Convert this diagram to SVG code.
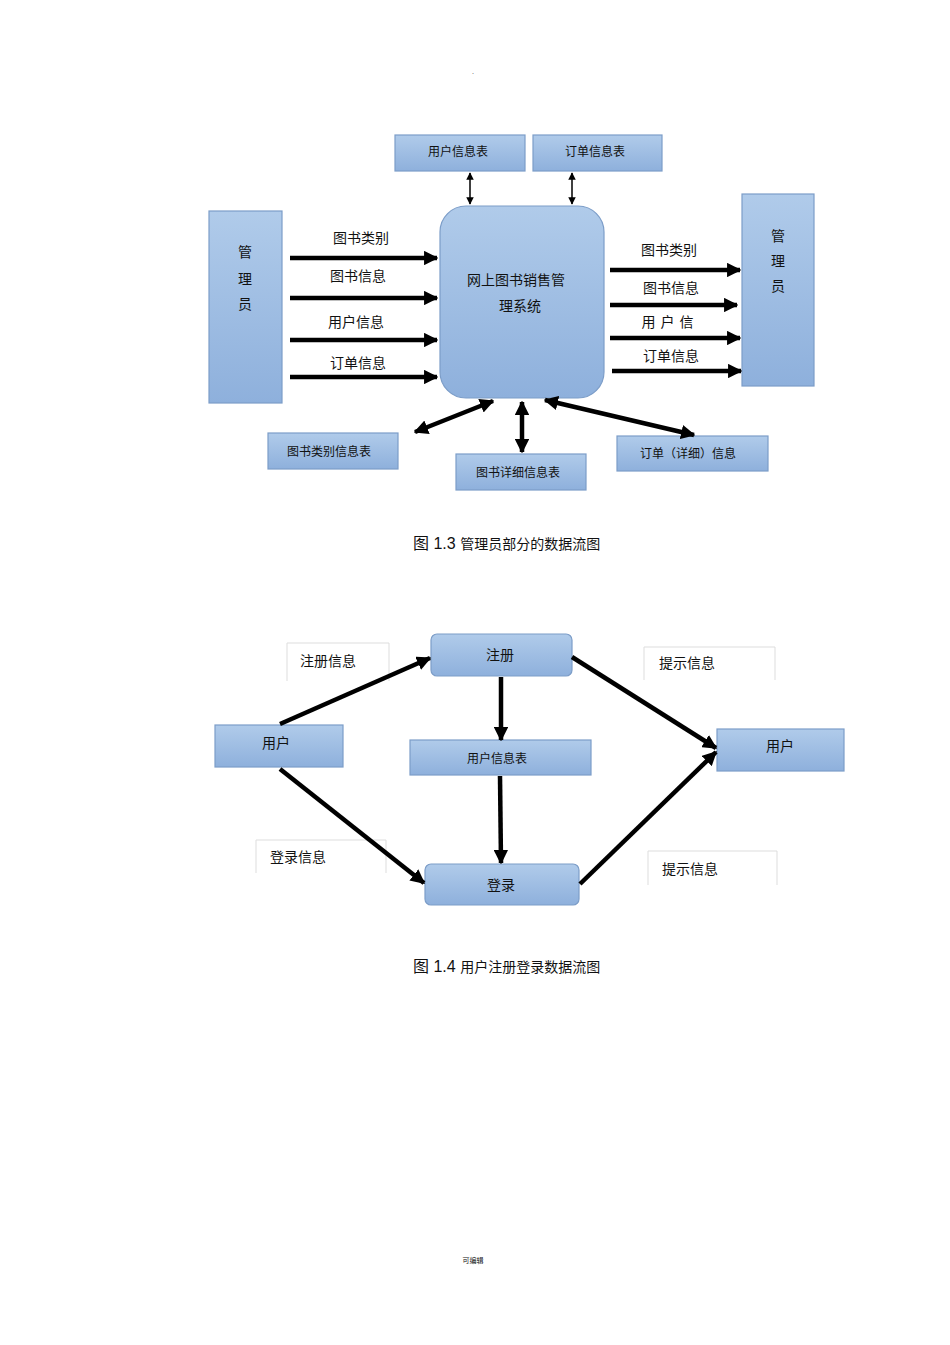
<svg xmlns="http://www.w3.org/2000/svg" width="950" height="1345" viewBox="0 0 950 1345">
<defs>
<linearGradient id="g" x1="0" y1="0" x2="0" y2="1"><stop offset="0" stop-color="#b0cbea"/><stop offset="1" stop-color="#8eb0dc"/></linearGradient>
<marker id="a" viewBox="0 0 10 10" refX="9" refY="5" markerWidth="3.2" markerHeight="3.2" orient="auto-start-reverse"><path d="M0,0L10,5L0,10z" fill="#000"/></marker>
<marker id="s" viewBox="0 0 10 10" refX="9" refY="5" markerWidth="5" markerHeight="5" orient="auto-start-reverse"><path d="M0,0L10,5L0,10z" fill="#000"/></marker>
</defs>
<style>
.b{fill:url(#g);stroke:#7c9dc8;stroke-width:1.2}
.w{fill:#fff;stroke:#ddd;stroke-width:1}
text{font-family:"Liberation Serif","Noto Sans CJK SC",serif;fill:#111;text-anchor:middle}
.t{font-size:14px}.s{font-size:12px}
.c{font-size:16px;text-anchor:start;font-family:"Liberation Sans","Noto Sans CJK SC",sans-serif}
.l{stroke:#000;stroke-width:4.5;fill:none}
.th{stroke:#000;stroke-width:1.5;fill:none}
</style>
<text x="473" y="74" font-size="6">.</text>
<g id="n_uinfo"><rect class="b" x="395" y="135" width="130" height="36"/><text class="s" x="458" y="156">用户信息表</text></g>
<g id="n_oinfo"><rect class="b" x="533" y="135" width="129" height="36"/><text class="s" x="595" y="156">订单信息表</text></g>
<g id="n_sys"><rect class="b" x="440" y="206" width="164" height="192" rx="26"/><text class="t" x="516" y="285">网上图书销售管</text><text class="t" x="520" y="311">理系统</text></g>
<g id="n_admL"><rect class="b" x="209" y="211" width="73" height="192"/><text class="t" x="245" y="257">管</text><text class="t" x="245" y="284">理</text><text class="t" x="245" y="309">员</text></g>
<g id="n_admR"><rect class="b" x="742" y="194" width="72" height="192"/><text class="t" x="778" y="241">管</text><text class="t" x="778" y="266">理</text><text class="t" x="778" y="291">员</text></g>
<g id="n_cat"><rect class="b" x="268" y="433" width="130" height="36"/><text class="s" x="329" y="456">图书类别信息表</text></g>
<g id="n_detail"><rect class="b" x="456" y="454" width="130" height="36"/><text class="s" x="518" y="477">图书详细信息表</text></g>
<g id="n_order"><rect class="b" x="617" y="436" width="151" height="35"/><text class="s" x="688" y="458">订单（详细）信息</text></g>
<g id="labels13">
<text class="t" x="361" y="243">图书类别</text><text class="t" x="358" y="281">图书信息</text><text class="t" x="356" y="327">用户信息</text><text class="t" x="358" y="368">订单信息</text>
<text class="t" x="669" y="255">图书类别</text><text class="t" x="671" y="293">图书信息</text><text class="t" x="670" y="327" letter-spacing="5">用户信</text><text class="t" x="671" y="361">订单信息</text>
</g>
<text class="c" x="413" y="549">图 1.3 <tspan font-size="14" font-family="Liberation Serif,Noto Sans CJK SC,serif">管理员部分的数据流图</tspan></text>
<g id="n_reg"><rect class="b" x="431" y="634" width="141" height="42" rx="6"/><text class="t" x="500" y="660">注册</text></g>
<g id="n_userL"><rect class="b" x="215" y="725" width="128" height="42"/><text class="t" x="276" y="748">用户</text></g>
<g id="n_utab"><rect class="b" x="410" y="740" width="181" height="35"/><text class="s" x="497" y="763">用户信息表</text></g>
<g id="n_userR"><rect class="b" x="717" y="729" width="127" height="42"/><text class="t" x="780" y="751">用户</text></g>
<g id="n_login"><rect class="b" x="425" y="864" width="154" height="41" rx="6"/><text class="t" x="501" y="890">登录</text></g>
<g id="labels14">
<path class="w" d="M287,681V643H389V681"/><text class="t" x="328" y="666">注册信息</text>
<path class="w" d="M644,680V647H775V680"/><text class="t" x="687" y="668">提示信息</text>
<path class="w" d="M256,873V840H386V873"/><text class="t" x="298" y="862">登录信息</text>
<path class="w" d="M648,885V851H777V885"/><text class="t" x="690" y="874">提示信息</text>
</g>
<text class="c" x="413" y="972">图 1.4  <tspan font-size="14" font-family="Liberation Serif,Noto Sans CJK SC,serif">用户注册登录数据流图</tspan></text>
<text x="473" y="1263" font-size="7">可编辑</text>
<g id="connectors">
<path class="th" d="M470,173V204" marker-start="url(#s)" marker-end="url(#s)"/>
<path class="th" d="M572,173V204" marker-start="url(#s)" marker-end="url(#s)"/>
<path class="l" d="M290,258H437" marker-end="url(#a)"/>
<path class="l" d="M290,298H437" marker-end="url(#a)"/>
<path class="l" d="M290,340H437" marker-end="url(#a)"/>
<path class="l" d="M290,377H437" marker-end="url(#a)"/>
<path class="l" d="M610,270H740" marker-end="url(#a)"/>
<path class="l" d="M610,305H737" marker-end="url(#a)"/>
<path class="l" d="M610,338H740" marker-end="url(#a)"/>
<path class="l" d="M612,371H741" marker-end="url(#a)"/>
<path class="l" d="M415,432L493,401" marker-start="url(#a)" marker-end="url(#a)"/>
<path class="l" d="M522,402V452" marker-start="url(#a)" marker-end="url(#a)"/>
<path class="l" d="M545,400L694,435" marker-start="url(#a)" marker-end="url(#a)"/>
<path class="l" d="M280,724L430,658" marker-end="url(#a)"/>
<path class="l" d="M572,657L716,748" marker-end="url(#a)"/>
<path class="l" d="M501,677V740" marker-end="url(#a)"/>
<path class="l" d="M500,776L501,863" marker-end="url(#a)"/>
<path class="l" d="M280,769L424,883" marker-end="url(#a)"/>
<path class="l" d="M580,884L716,752" marker-end="url(#a)"/>
</g>
</svg>
